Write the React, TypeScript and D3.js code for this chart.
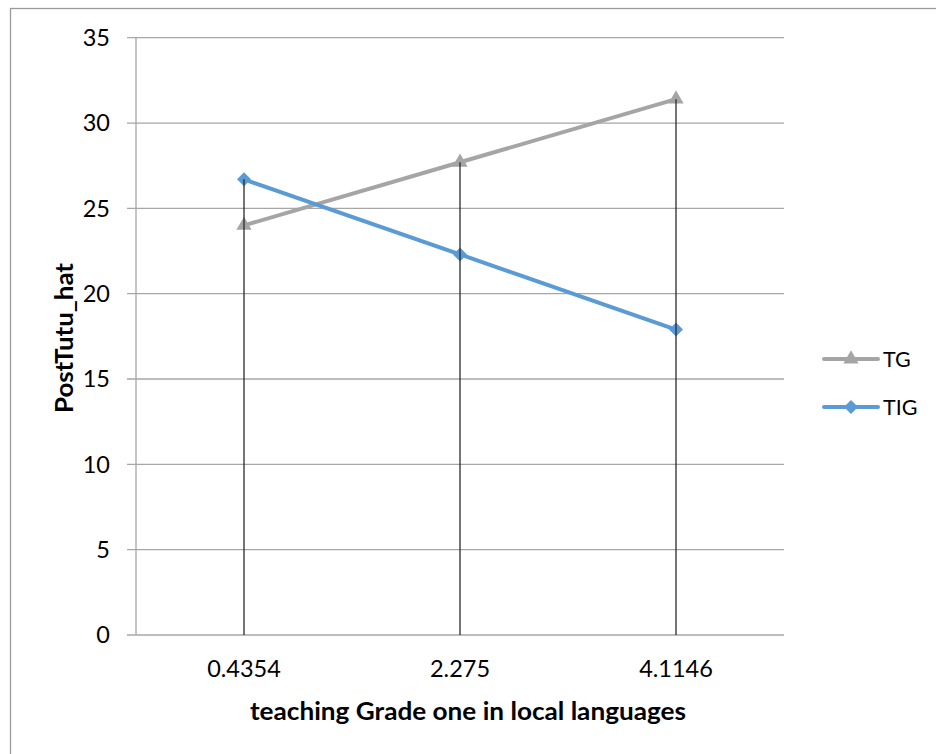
import React from "react";
import * as d3 from "d3";

const categories = ["0.4354", "2.275", "4.1146"];
const tgValues = [24.0, 27.7, 31.4];
const tigValues = [26.7, 22.3, 17.9];
const yTicks = [0, 5, 10, 15, 20, 25, 30, 35];
const seriesNames = ["TG", "TIG"];
const xTitle = "teaching Grade one in local languages";
const yTitle = "PostTutu_hat";

const W = 936;
const H = 754;
const FONT = "Lato, 'Open Sans', sans-serif";

export default function App() {
  const x = d3.scaleBand<string>().domain(categories).range([136, 784]);
  const y = d3.scaleLinear().domain([0, 35]).range([635, 37.7]);
  const cx = (c: string) => (x(c) ?? 0) + x.bandwidth() / 2;
  const line = d3
    .line<number>()
    .x((_, i) => cx(categories[i]))
    .y((d) => y(d));
  const tri = d3.symbol().type(d3.symbolTriangle).size(100)();
  const dia = "M0,-7L7,0L0,7L-7,0Z";
  const gray = "#A5A5A5";
  const blue = "#5B9BD5";
  const grid = "#A6A6A6";

  return (
    <svg
      width={W}
      height={H}
      style={{ position: "absolute", left: 0, top: 0, background: "#fff" }}
      fontFamily={FONT}
    >
      <rect x={10.5} y={8.5} width={1000} height={1000} fill="#fff" stroke="#9a9a9a" strokeWidth={1.3} />
      {yTicks.map((t) => (
        <g key={t}>
          <line x1={127} x2={784} y1={y(t)} y2={y(t)} stroke={grid} strokeWidth={1.3} />
          <text x={110} y={y(t)} dy="0.36em" textAnchor="end" fontSize={23.5} fill="#000">
            {t}
          </text>
        </g>
      ))}
      <line x1={136} x2={136} y1={y(35)} y2={y(0)} stroke={grid} strokeWidth={1.3} />
      {categories.map((c) => (
        <text key={c} x={cx(c)} y={677} textAnchor="middle" fontSize={23.5} fill="#000">
          {c}
        </text>
      ))}
      <path d={line(tgValues) ?? ""} fill="none" stroke={gray} strokeWidth={4} strokeLinejoin="round" />
      <path d={line(tigValues) ?? ""} fill="none" stroke={blue} strokeWidth={4} strokeLinejoin="round" />
      {tgValues.map((v, i) => (
        <path key={"t" + i} d={tri ?? ""} transform={`translate(${cx(categories[i])},${y(v)})`} fill={gray} />
      ))}
      {tigValues.map((v, i) => (
        <path key={"d" + i} d={dia} transform={`translate(${cx(categories[i])},${y(v)})`} fill={blue} />
      ))}
      {categories.map((c, i) => (
        <line
          key={"drop" + c}
          x1={cx(c)}
          x2={cx(c)}
          y1={y(Math.max(tgValues[i], tigValues[i]))}
          y2={y(0)}
          stroke="#2b2b2b"
          strokeWidth={1.3}
        />
      ))}
      <text
        x={468}
        y={720}
        textAnchor="middle"
        fontSize={24}
        fontWeight="bold"
        fill="#000"
        textLength={436}
        lengthAdjust="spacingAndGlyphs"
      >
        {xTitle}
      </text>
      <text
        transform={`translate(73,338) rotate(-90)`}
        textAnchor="middle"
        fontSize={24}
        fontWeight="bold"
        fill="#000"
        textLength={150}
        lengthAdjust="spacingAndGlyphs"
      >
        {yTitle}
      </text>
      {seriesNames.map((s, i) => {
        const ly = 359 + i * 48;
        const col = i === 0 ? gray : blue;
        return (
          <g key={s}>
            <line x1={824} x2={878} y1={ly} y2={ly} stroke={col} strokeWidth={4} strokeLinecap="round" />
            <path d={i === 0 ? tri ?? "" : dia} transform={`translate(851,${ly})`} fill={col} />
            <text x={883} y={ly} dy="0.36em" fontSize={21.5} fill="#000">
              {s}
            </text>
          </g>
        );
      })}
    </svg>
  );
}
